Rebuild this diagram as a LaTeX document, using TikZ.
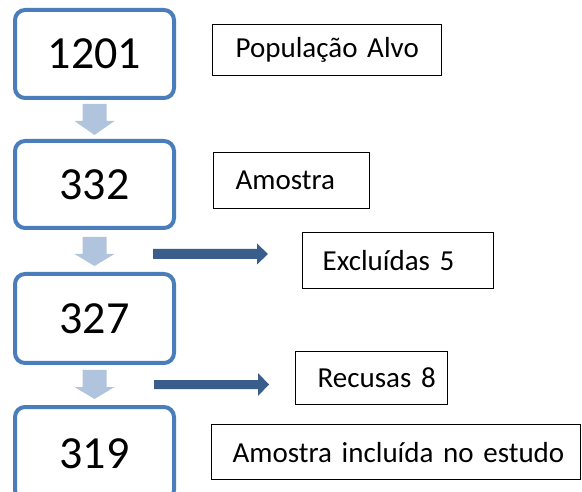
\documentclass[tikz,border=0pt]{standalone}
\usepackage{fontspec}
\setmainfont{Carlito}
\usetikzlibrary{calc}
\definecolor{boxblue}{HTML}{4A7EBB}
\definecolor{lightarr}{HTML}{B0C4DE}
\definecolor{darkarr}{HTML}{3A5E8C}
\newcommand\lblfont{\fontsize{29}{32}\selectfont\spaceskip=0.19em\relax}
\begin{document}
\begin{tikzpicture}[x=1pt,y=-1pt,
  numbox/.style={draw=boxblue, line width=4pt, rounded corners=10pt, fill=white,
    minimum width=159pt, inner sep=0pt, font=\fontsize{46}{50}\selectfont},
  labelbox/.style={draw=black, line width=1.4pt, anchor=north west, align=left,
    inner sep=0pt, font=\lblfont},
  lightfill/.style={fill=lightarr},
  darkfill/.style={fill=darkarr}]
\useasboundingbox (0,0) rectangle (582,492);
\clip (0,0) rectangle (582,492);
\fill[white] (0,0) rectangle (582,492);

% main boxes
\node[numbox, minimum height=88pt] (b1) at (94.5,54) {1201};
\node[numbox, minimum height=87pt] (b2) at (94.5,184.5) {332};
\node[numbox, minimum height=89pt] (b3) at (94.5,318.5) {327};
\node[numbox, minimum height=93pt] (b4) at (94.5,453.5) {319};

% label boxes
\node[labelbox, text width=229pt, minimum height=51pt] (l1) at (212,24) {\hspace*{23pt}População Alvo};
\node[labelbox, text width=156pt, minimum height=56pt] (l2) at (213,152) {\hspace*{22pt}Amostra};
\node[labelbox, text width=191pt, minimum height=56pt] (l3) at (302,232) {\hspace*{20pt}Excluídas 5};
\node[labelbox, text width=152pt, minimum height=53pt] (l4) at (295,351) {\hspace*{22pt}Recusas 8};
\node[labelbox, text width=369pt, minimum height=55pt] (l5) at (211,424) {\hspace*{21pt}Amostra incluída no estudo};

% light down arrows
\fill[lightfill] ($(b1.south)+(-12,4)$) -- ($(b1.south)+(12,4)$) -- ($(b1.south)+(12,21)$)
  -- ($(b1.south)+(20,21)$) -- ($(b2.north)+(0,-4)$) -- ($(b1.south)+(-20,21)$)
  -- ($(b1.south)+(-12,21)$) -- cycle;
\fill[lightfill] ($(b2.south)+(-12,7)$) -- ($(b2.south)+(12,7)$) -- ($(b2.south)+(12,24)$)
  -- ($(b2.south)+(20,24)$) -- ($(b3.north)+(0,-6)$) -- ($(b2.south)+(-20,24)$)
  -- ($(b2.south)+(-12,24)$) -- cycle;
\fill[lightfill] ($(b3.south)+(-12,5)$) -- ($(b3.south)+(12,5)$) -- ($(b3.south)+(12,22)$)
  -- ($(b3.south)+(20,22)$) -- ($(b4.north)+(0,-6)$) -- ($(b3.south)+(-20,22)$)
  -- ($(b3.south)+(-12,22)$) -- cycle;

% dark side arrows
\coordinate (e1s) at (153,254);
\coordinate (e1t) at (268,254);
\coordinate (e2s) at (154,384.5);
\coordinate (e2t) at (269,384.5);
\fill[darkfill] ($(e1s)+(0,-5)$) -- ($(e1t)+(-11,-5)$) -- ($(e1t)+(-11,-10.5)$) -- (e1t)
  -- ($(e1t)+(-11,10.5)$) -- ($(e1t)+(-11,5)$) -- ($(e1s)+(0,5)$) -- cycle;
\fill[darkfill] ($(e2s)+(0,-4.5)$) -- ($(e2t)+(-11,-4.5)$) -- ($(e2t)+(-11,-11.5)$) -- (e2t)
  -- ($(e2t)+(-11,11.5)$) -- ($(e2t)+(-11,4.5)$) -- ($(e2s)+(0,4.5)$) -- cycle;
\end{tikzpicture}
\end{document}
